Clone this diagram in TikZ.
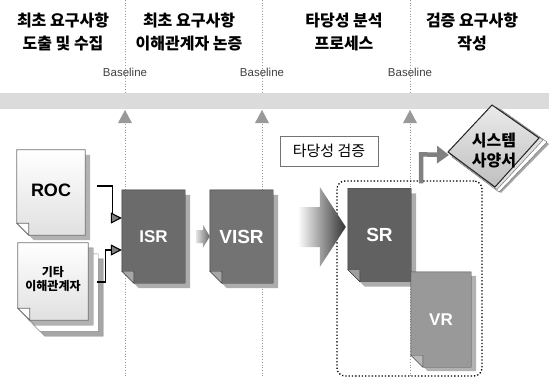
\documentclass[tikz,border=0pt]{standalone}
\usepackage{fontspec}
\setmainfont{Liberation Sans}
\newfontfamily\cjk{Noto Sans CJK KR}
\usetikzlibrary{calc,arrows.meta,backgrounds}
\newcommand\docat[4]{%
 \path[#4] ($(#1.north west)+(#2,#3)$) -- ($(#1.north east)+(#2,#3)$) -- ($(#1.south east)+(#2,#3)$) -- ($(#1.south west)+(#2+12,#3)$) -- ($(#1.south west)+(#2,#3-12)$) -- cycle;}
\newcommand\foldat[2]{%
 \path[#2] ($(#1.south west)+(0,-12)$) -- ($(#1.south west)+(12,-12)$) -- ($(#1.south west)+(12,0)$) -- cycle;}
\begin{document}
\begin{tikzpicture}[x=1pt,y=-1pt,
  head/.style={align=center,font=\cjk\bfseries\fontsize{16}{23}\selectfont},
  blabel/.style={font=\fontsize{11.5}{11.5}\selectfont,text=black!75},
  vline/.style={draw=black!40,dotted,line width=0.7pt},
  marker/.style={fill=black!40},
  docn/.style={inner sep=0,minimum width=63,minimum height=93,text=white,font=\bfseries\fontsize{17}{17}\selectfont},
  conn/.style={draw=black,line width=1.1pt,-{Triangle[length=11pt,width=11pt,fill=black!50]}},
  thick arrow/.style={draw=black!50,line width=4.5pt,-{Triangle[length=12pt,width=17pt,fill=black!50]}}]
\useasboundingbox (0,0) rectangle (549,378);
% headings
\node[head] (h1) at (63,31.5) {최초 요구사항\\도출 및 수집};
\node[head] (h2) at (189,31.5) {최초 요구사항\\이해관계자 논증};
\node[head] (h3) at (344,31.5) {타당성 분석\\프로세스};
\node[head] (h4) at (472,31.5) {검증 요구사항\\작성};
% baseline markers
\coordinate (m1) at (125,110);
\coordinate (m2) at (262,110);
\coordinate (m3) at (410,110);
\begin{pgfonlayer}{background}
 \fill[white] (0,0) rectangle (549,378);
 \foreach \m in {m1,m2,m3} \draw[vline] (\m |- 0,0) -- (\m |- 0,378);
 \fill[black!14] (0,93) rectangle (549,109);
\end{pgfonlayer}
\node[blabel] (bl1) at (125,72) {Baseline};
\node[blabel] (bl2) at (262,72) {Baseline};
\node[blabel] (bl3) at (410,72) {Baseline};
\foreach \m in {m1,m2,m3} \fill[marker] (\m) -- ($(\m)+(7,13)$) -- ($(\m)+(-7,13)$) -- cycle;
% documents
\node[docn,minimum width=68,minimum height=85,text=black,font=\bfseries\fontsize{18}{18}\selectfont] (roc) at (51,192.5) {\raisebox{4pt}{ROC}};
\node[docn,minimum width=70,minimum height=77,text=black,align=center,font=\cjk\bfseries\fontsize{12}{17}\selectfont] (oth) at (53,281.5) {\raisebox{6pt}{\shortstack{기타\\이해관계자}}};
\node[docn] (isr) at (153.5,236.5) {ISR};
\node[docn,font=\bfseries\fontsize{19}{19}\selectfont] (visr) at (241.5,236.5) {VISR};
\node[docn,font=\bfseries\fontsize{19}{19}\selectfont] (sr) at (379.5,235) {SR};
\node[docn,minimum width=60,minimum height=95] (vr) at (441,319.5) {VR};
\begin{pgfonlayer}{background}
 \docat{roc}{5}{5}{fill=black!30}
 \docat{roc}{0}{0}{top color=white,bottom color=black!12,draw=black!55,line width=0.8pt}
 \foldat{roc}{fill=white,draw=black!60,line width=0.8pt}
 \docat{oth}{15}{16}{fill=black!35,draw=black!50}
 \docat{oth}{10}{11}{fill=white,draw=black!50}
 \docat{oth}{5}{5}{fill=black!30,draw=black!50}
 \docat{oth}{0}{0}{top color=white,bottom color=black!12,draw=black!55,line width=0.8pt}
 \foldat{oth}{fill=white,draw=black!60,line width=0.8pt}
 \docat{isr}{5}{5}{fill=black!32}
 \docat{isr}{0}{0}{fill=black!58,draw=black!80}
 \foldat{isr}{fill=black!35,draw=black!80}
 \docat{visr}{5}{5}{fill=black!32}
 \docat{visr}{0}{0}{fill=black!55,draw=black!80}
 \foldat{visr}{fill=black!35,draw=black!80}
 \docat{sr}{5}{5}{fill=black!32}
 \docat{sr}{0}{0}{fill=black!62,draw=black!80}
 \foldat{sr}{fill=black!38,draw=black!80}
 \docat{vr}{5}{4}{fill=black!30}
 \docat{vr}{0}{0}{fill=black!40,draw=black!70}
 \foldat{vr}{fill=black!28,draw=black!70}
\end{pgfonlayer}
% connectors into ISR
\draw[conn] ($(roc.east)+(12,-6.5)$) -- ++(15,0) |- ($(isr.west)+(0,-18.5)$);
\draw[conn] ($(oth.east)+(9,0.5)$) -- ++(8,0) |- ($(isr.west)+(0,13.5)$);
% ISR -> VISR
\shade[left color=black!10,right color=black!60] ($(isr.east)+(11,-6.5)$) -- ++(7,0) -- ++(0,-5) -- (visr.west) -- ++(-7,11.5) -- ++(0,-5) -- ++(-7,0) -- cycle;
% validation label
\node[draw=black!55,fill=white,inner sep=0,minimum width=98,minimum height=30,font=\cjk\fontsize{15}{15}\selectfont] (val) at (329,151) {타당성 검증};
% group box
\node[draw=black,dotted,line width=1.3pt,rounded corners=8pt,minimum width=145,minimum height=195,inner sep=0] (grp) at (409.5,278.5) {};
% big arrow VISR -> SR
\coordinate (tip) at ($(sr.west)+(-2,-8)$);
\shade[left color=white,right color=black!80] (tip) -- ++(-26,-40) -- ++(0,20) -- ++(-22,0) -- ++(0,40) -- ++(22,0) -- ++(0,20) -- cycle;
% system spec
\node[font=\cjk\bfseries\fontsize{16}{20}\selectfont,align=center,inner sep=0] (spec) at (494,151) {시스템\\사양서};
\begin{pgfonlayer}{background}
 \fill[black!35] ($(spec)+(-46,1)+(6,6)$) -- ($(spec)+(-2,-46)+(10,6)$) -- ($(spec)+(45,-13)+(10,6)$) -- ($(spec)+(1,36)+(6,6)$) -- cycle;
 \filldraw[fill=white,draw=black!60] ($(spec)+(-46,1)+(4,5)$) -- ($(spec)+(-2,-46)+(8,4)$) -- ($(spec)+(45,-13)+(8,4)$) -- ($(spec)+(1,36)+(4,5)$) -- cycle;
 \filldraw[fill=black!12,draw=black!60] ($(spec)+(-46,1)+(2,2.5)$) -- ($(spec)+(-2,-46)+(4,2)$) -- ($(spec)+(45,-13)+(4,2)$) -- ($(spec)+(1,36)+(2,2.5)$) -- cycle;
 \filldraw[top color=black!8,bottom color=black!25,draw=black!85,line width=1pt] ($(spec)+(-46,1)$) -- ($(spec)+(-2,-46)$) -- ($(spec)+(45,-13)$) -- ($(spec)+(1,36)$) -- cycle;
\end{pgfonlayer}
\draw[thick arrow] ($(grp.north)+(11.5,3)$) -- ++(0,-29) -- ($(spec)+(-45,4)$);
\end{tikzpicture}
\end{document}
